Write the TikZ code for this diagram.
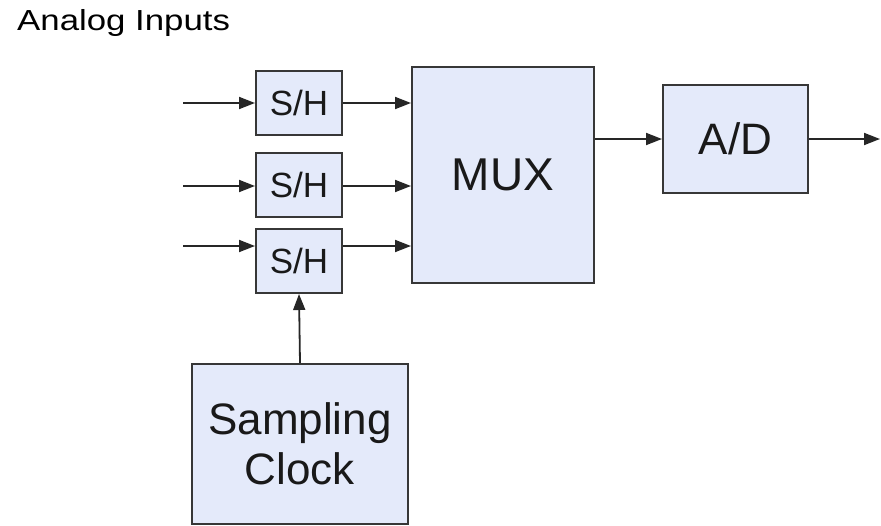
\documentclass[tikz,border=0pt]{standalone}
\usepackage{fontspec}
\setmainfont{Liberation Sans}
\newfontfamily\widesans[FakeStretch=1.2]{Liberation Sans}
\usetikzlibrary{arrows.meta}
\definecolor{boxfill}{RGB}{228,234,250}
\definecolor{boxline}{RGB}{55,55,55}
\tikzset{
  blk/.style={draw=boxline, line width=2pt, fill=boxfill, rectangle, inner sep=0pt, align=center, text=black!90},
  conn/.style={draw=black!85, line width=1.8pt, -{Triangle[length=16pt,width=12pt]}},
}
\begin{document}
\begin{tikzpicture}[x=1pt,y=-1pt]
\useasboundingbox (0,0) rectangle (881,525);
\node[anchor=base west, inner sep=0pt, font=\widesans\fontsize{29}{32}\selectfont] (title) at (17,30) {Analog Inputs};
\node[blk, minimum width=86pt, minimum height=64pt, font=\fontsize{35}{38}\selectfont] (sh1) at (299,103) {S/H};
\node[blk, minimum width=86pt, minimum height=64pt, font=\fontsize{35}{38}\selectfont] (sh2) at (299,185) {S/H};
\node[blk, minimum width=86pt, minimum height=64pt, font=\fontsize{35}{38}\selectfont] (sh3) at (299,261) {S/H};
\node[blk, minimum width=182pt, minimum height=216pt, font=\fontsize{46}{48}\selectfont] (mux) at (503,175) {MUX};
\node[blk, minimum width=145pt, minimum height=108pt, font=\fontsize{44}{46}\selectfont] (ad) at (735.5,139) {A/D};
\node[blk, minimum width=216pt, minimum height=160pt, font=\fontsize{44}{50}\selectfont] (clk) at (300,444) {Sampling\\Clock};
\coordinate (in1) at (183,103);
\coordinate (in2) at (183,186);
\coordinate (in3) at (183,246);
\coordinate (out) at (880,139);
\draw[conn] (in1) -- (sh1.west |- in1);
\draw[conn] (in2) -- (sh2.west |- in2);
\draw[conn] (in3) -- (sh3.west |- in3);
\draw[conn] (sh1.east |- in1) -- (mux.west |- in1);
\draw[conn] (sh2.east |- in2) -- (mux.west |- in2);
\draw[conn] (sh3.east |- in3) -- (mux.west |- in3);
\draw[conn] (mux.east |- ad.west) -- (ad.west);
\draw[conn] (ad.east) -- (out);
\draw[conn] (clk.north) -- (sh3.south);
\end{tikzpicture}
\end{document}
